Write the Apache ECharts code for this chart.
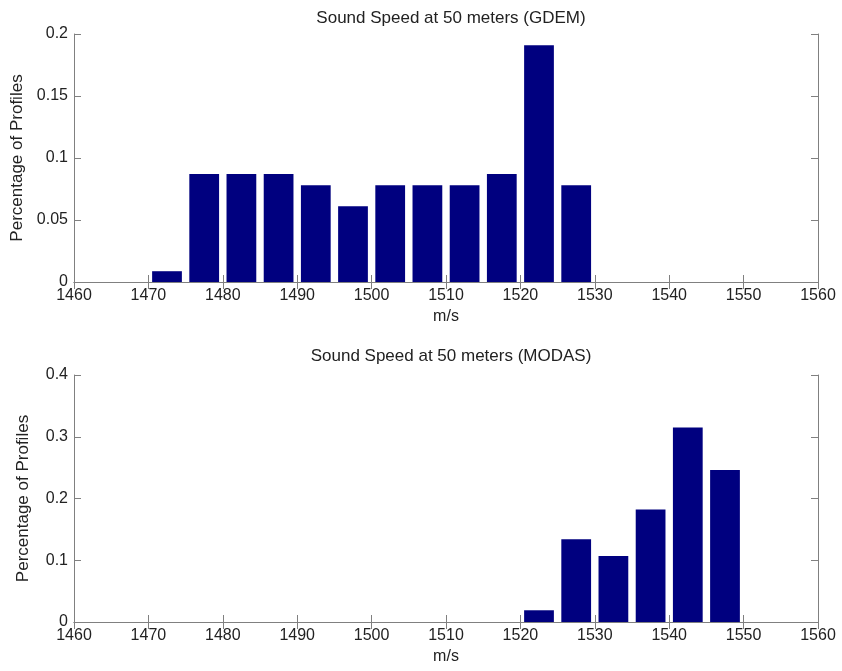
<!DOCTYPE html>
<html>
<head>
<meta charset="utf-8">
<script src="https://cdn.jsdelivr.net/npm/echarts@6/dist/echarts.min.js"></script>
<style>
html,body{margin:0;padding:0;background:#fff;}
#chart{width:842px;height:671px;}
</style>
</head>
<body>
<div id="chart"></div>
<script>
// ---- Data ----
const gdemBins = [1472.5, 1477.5, 1482.5, 1487.5, 1492.5, 1497.5, 1502.5, 1507.5, 1512.5, 1517.5, 1522.5, 1527.5];
const gdemValues = [0.0087, 0.087, 0.087, 0.087, 0.078, 0.061, 0.078, 0.078, 0.078, 0.087, 0.191, 0.078];
const modasBins = [1522.5, 1527.5, 1532.5, 1537.5, 1542.5, 1547.5];
const modasValues = [0.019, 0.134, 0.107, 0.182, 0.315, 0.246];
const xTicks = [1460, 1470, 1480, 1490, 1500, 1510, 1520, 1530, 1540, 1550, 1560];
const titles = ['Sound Speed at 50 meters (GDEM)', 'Sound Speed at 50 meters (MODAS)'];
const xName = 'm/s';
const yName = 'Percentage of Profiles';

const FONT = '"Liberation Sans", Arial, sans-serif';
const AX = '#808080';
const BAR = '#00007f';

const chart = echarts.init(document.getElementById('chart'), null, {renderer: 'canvas'});

const grids = [
  {left: 74, right: 24, top: 34, height: 248},
  {left: 74, right: 24, top: 375, height: 247}
];
const yMax = [0.2, 0.4];
const yInt = [0.05, 0.1];

function xAxes(gi) {
  const base = {
    gridIndex: gi, type: 'value', min: xTicks[0], max: xTicks[xTicks.length - 1], interval: 10,
    splitLine: {show: false},
    axisLine: {show: true, lineStyle: {color: AX, width: 1}},
    axisTick: {show: true, inside: true, length: 7, lineStyle: {color: AX}}
  };
  return [
    Object.assign({}, base, {
      position: 'bottom',
      name: xName, nameLocation: 'middle', nameGap: 27,
      nameTextStyle: {fontFamily: FONT, fontSize: 16, color: '#222'},
      axisLabel: {show: true, margin: 6, fontFamily: FONT, fontSize: 16, color: '#222',
                  formatter: v => String(v)}
    }),
    Object.assign({}, base, {position: 'top', axisLabel: {show: false}})
  ];
}
function yAxes(gi) {
  const base = {
    gridIndex: gi, type: 'value', min: 0, max: yMax[gi], interval: yInt[gi],
    splitLine: {show: false},
    axisLine: {show: true, lineStyle: {color: AX, width: 1}},
    axisTick: {show: true, inside: true, length: 7, lineStyle: {color: AX}}
  };
  return [
    Object.assign({}, base, {
      position: 'left',
      name: yName, nameLocation: 'middle', nameGap: 42,
      nameTextStyle: {fontFamily: FONT, fontSize: 17, color: '#222'},
      axisLabel: {show: true, margin: 6, fontFamily: FONT, fontSize: 16, color: '#222',
                  formatter: v => String(parseFloat(v.toFixed(4)))}
    }),
    Object.assign({}, base, {position: 'right', axisLabel: {show: false}})
  ];
}

function pairs(xs, ys) { return xs.map((x, i) => [x, ys[i]]); }

const option = {
  animation: false,
  backgroundColor: '#ffffff',
  title: [
    {text: titles[0], left: 446, textAlign: 'center', top: 5,
     textStyle: {fontFamily: FONT, fontSize: 17, fontWeight: 'normal', color: '#222'}},
    {text: titles[1], left: 446, textAlign: 'center', top: 343,
     textStyle: {fontFamily: FONT, fontSize: 17, fontWeight: 'normal', color: '#222'}}
  ],
  grid: grids.map(g => Object.assign({show: false}, g)),
  xAxis: xAxes(0).concat(xAxes(1)),
  yAxis: yAxes(0).concat(yAxes(1)),
  series: [
    {type: 'bar', xAxisIndex: 0, yAxisIndex: 0, data: pairs(gdemBins, gdemValues),
     barWidth: 744 * 4 / 100, itemStyle: {color: BAR}},
    {type: 'bar', xAxisIndex: 2, yAxisIndex: 2, data: pairs(modasBins, modasValues),
     barWidth: 744 * 4 / 100, itemStyle: {color: BAR}}
  ]
};
chart.setOption(option);
</script>
</body>
</html>
